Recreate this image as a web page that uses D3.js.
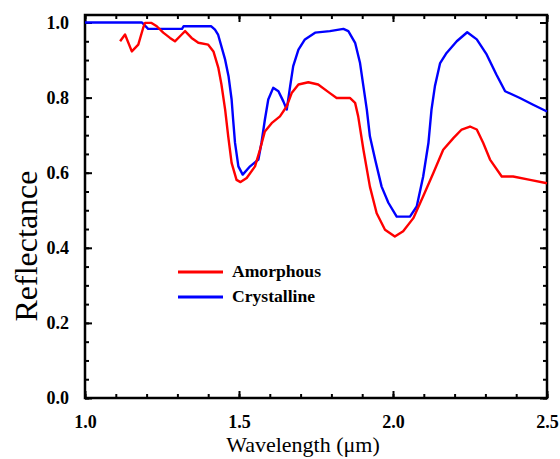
<!DOCTYPE html>
<html>
<head>
<meta charset="utf-8">
<script src="https://cdn.jsdelivr.net/npm/d3@7"></script>
<style>
  html, body { margin: 0; padding: 0; background: #fff; }
  svg { display: block; }
  svg text { font-family: "Liberation Serif", "Times New Roman", Times, serif; }
  .tick-label text { font-weight: bold; }
</style>
</head>
<body>
<svg id="chart" width="560" height="459"></svg>
<script>
// wavelength (µm) / reflectance
const amorphousX = [1.114, 1.13, 1.152, 1.173, 1.189, 1.195, 1.216, 1.233, 1.254, 1.276, 1.292, 1.314, 1.325, 1.346, 1.368, 1.40, 1.417, 1.433, 1.443, 1.455, 1.465, 1.476, 1.492, 1.505, 1.525, 1.552, 1.568, 1.584, 1.606, 1.633, 1.655, 1.671, 1.693, 1.725, 1.757, 1.795, 1.817, 1.86, 1.877, 1.887, 1.904, 1.925, 1.947, 1.974, 2.006, 2.033, 2.066, 2.098, 2.131, 2.163, 2.196, 2.223, 2.25, 2.272, 2.293, 2.315, 2.353, 2.39, 2.445, 2.5];
const amorphousY = [0.95, 0.968, 0.923, 0.941, 0.986, 0.999, 0.999, 0.99, 0.973, 0.959, 0.95, 0.968, 0.977, 0.959, 0.946, 0.941, 0.923, 0.879, 0.835, 0.768, 0.697, 0.626, 0.581, 0.575, 0.586, 0.617, 0.661, 0.71, 0.732, 0.75, 0.777, 0.812, 0.835, 0.841, 0.835, 0.812, 0.799, 0.799, 0.786, 0.75, 0.661, 0.563, 0.492, 0.448, 0.43, 0.444, 0.479, 0.537, 0.599, 0.661, 0.692, 0.715, 0.723, 0.715, 0.679, 0.635, 0.59, 0.59, 0.581, 0.572];

const crystallineX = [1.0, 1.185, 1.205, 1.315, 1.32, 1.41, 1.422, 1.432, 1.455, 1.466, 1.476, 1.481, 1.487, 1.498, 1.512, 1.536, 1.563, 1.573, 1.584, 1.595, 1.611, 1.628, 1.644, 1.655, 1.666, 1.676, 1.693, 1.714, 1.747, 1.795, 1.839, 1.855, 1.877, 1.893, 1.904, 1.915, 1.925, 1.942, 1.963, 1.985, 2.012, 2.055, 2.077, 2.098, 2.115, 2.125, 2.136, 2.153, 2.174, 2.207, 2.241, 2.272, 2.304, 2.336, 2.364, 2.412, 2.455, 2.5];
const crystallineY = [1.0, 1.0, 0.983, 0.983, 0.99, 0.99, 0.981, 0.968, 0.901, 0.857, 0.795, 0.741, 0.68, 0.617, 0.595, 0.617, 0.635, 0.68, 0.741, 0.795, 0.826, 0.817, 0.79, 0.768, 0.83, 0.884, 0.928, 0.955, 0.973, 0.977, 0.983, 0.977, 0.946, 0.892, 0.83, 0.768, 0.697, 0.635, 0.563, 0.52, 0.483, 0.483, 0.51, 0.59, 0.679, 0.768, 0.83, 0.892, 0.919, 0.95, 0.974, 0.955, 0.915, 0.861, 0.817, 0.799, 0.781, 0.763];

const seriesNames = ["Amorphous", "Crystalline"];
const seriesColors = ["#ff0000", "#0000ff"];

const xMajor = [1.0, 1.5, 2.0, 2.5];
const yMajor = [0.0, 0.2, 0.4, 0.6, 0.8, 1.0];

const svg = d3.select("#chart");
const plotL = 85, plotR = 547, plotT = 15, plotB = 398;

const x = d3.scaleLinear().domain([1.0, 2.5]).range([plotL, plotR]);
const y = d3.scaleLinear().domain([0, 1.02]).range([plotB, plotT]);

const xMinor = d3.range(10, 26).map(d => d / 10);
const yMinor = d3.range(0, 21).map(d => d / 20);

function styleAxis(g) {
  g.select(".domain").remove();
  g.attr("font-family", null);
  g.selectAll(".tick line").attr("stroke", "#000").attr("stroke-width", 2);
}

// minor ticks, all four sides, pointing inward
svg.append("g").attr("transform", `translate(0,${plotB})`)
  .call(d3.axisBottom(x).tickValues(xMinor).tickSize(-4).tickFormat(""))
  .call(styleAxis);
svg.append("g").attr("transform", `translate(0,${plotT})`)
  .call(d3.axisTop(x).tickValues(xMinor).tickSize(-4).tickFormat(""))
  .call(styleAxis);
svg.append("g").attr("transform", `translate(${plotL},0)`)
  .call(d3.axisLeft(y).tickValues(yMinor).tickSize(-4).tickFormat(""))
  .call(styleAxis);
svg.append("g").attr("transform", `translate(${plotR},0)`)
  .call(d3.axisRight(y).tickValues(yMinor).tickSize(-4).tickFormat(""))
  .call(styleAxis);

// major ticks with labels
svg.append("g").attr("class", "tick-label").attr("transform", `translate(0,${plotB})`)
  .call(d3.axisBottom(x).tickValues(xMajor).tickSize(-7).tickPadding(17).tickFormat(d3.format(".1f")))
  .call(styleAxis)
  .selectAll("text").attr("font-size", 18).attr("fill", "#000");
svg.append("g").attr("transform", `translate(0,${plotT})`)
  .call(d3.axisTop(x).tickValues(xMajor).tickSize(-7).tickFormat(""))
  .call(styleAxis);
svg.append("g").attr("class", "tick-label").attr("transform", `translate(${plotL},0)`)
  .call(d3.axisLeft(y).tickValues(yMajor).tickSize(-7).tickPadding(16).tickFormat(d3.format(".1f")))
  .call(styleAxis)
  .selectAll("text").attr("font-size", 18).attr("fill", "#000");
svg.append("g").attr("transform", `translate(${plotR},0)`)
  .call(d3.axisRight(y).tickValues(yMajor).tickSize(-7).tickFormat(""))
  .call(styleAxis);

// frame
svg.append("rect")
  .attr("x", plotL).attr("y", plotT)
  .attr("width", plotR - plotL).attr("height", plotB - plotT)
  .attr("fill", "none").attr("stroke", "#000").attr("stroke-width", 2.5);

// curves
const line = d3.line().x(d => x(d[0])).y(d => y(d[1]));
const series = [
  d3.zip(amorphousX, amorphousY),
  d3.zip(crystallineX, crystallineY)
];
// draw crystalline first so the red sits where they overlap
[1, 0].forEach(i => {
  svg.append("path")
    .datum(series[i])
    .attr("d", line)
    .attr("fill", "none")
    .attr("stroke", seriesColors[i])
    .attr("stroke-width", 2.4)
    .attr("stroke-linejoin", "round");
});

// legend
const legend = svg.append("g");
seriesNames.forEach((name, i) => {
  const ly = 272 + i * 25;
  legend.append("line")
    .attr("x1", 178).attr("x2", 223)
    .attr("y1", ly).attr("y2", ly)
    .attr("stroke", seriesColors[i]).attr("stroke-width", 3);
  legend.append("text")
    .attr("x", 232).attr("y", ly + 5)
    .attr("font-weight", "bold")
    .attr("font-size", 16)
    .attr("textLength", i === 0 ? 89 : 83)
    .attr("lengthAdjust", "spacingAndGlyphs")
    .text(name);
});

// axis titles
svg.append("text")
  .attr("x", 303).attr("y", 452)
  .attr("text-anchor", "middle")
  .attr("font-size", 22)
  .text("Wavelength (μm)");

svg.append("text")
  .attr("transform", "translate(37,246) rotate(-90)")
  .attr("text-anchor", "middle")
  .attr("font-size", 32)
  .text("Reflectance");
</script>
</body>
</html>
